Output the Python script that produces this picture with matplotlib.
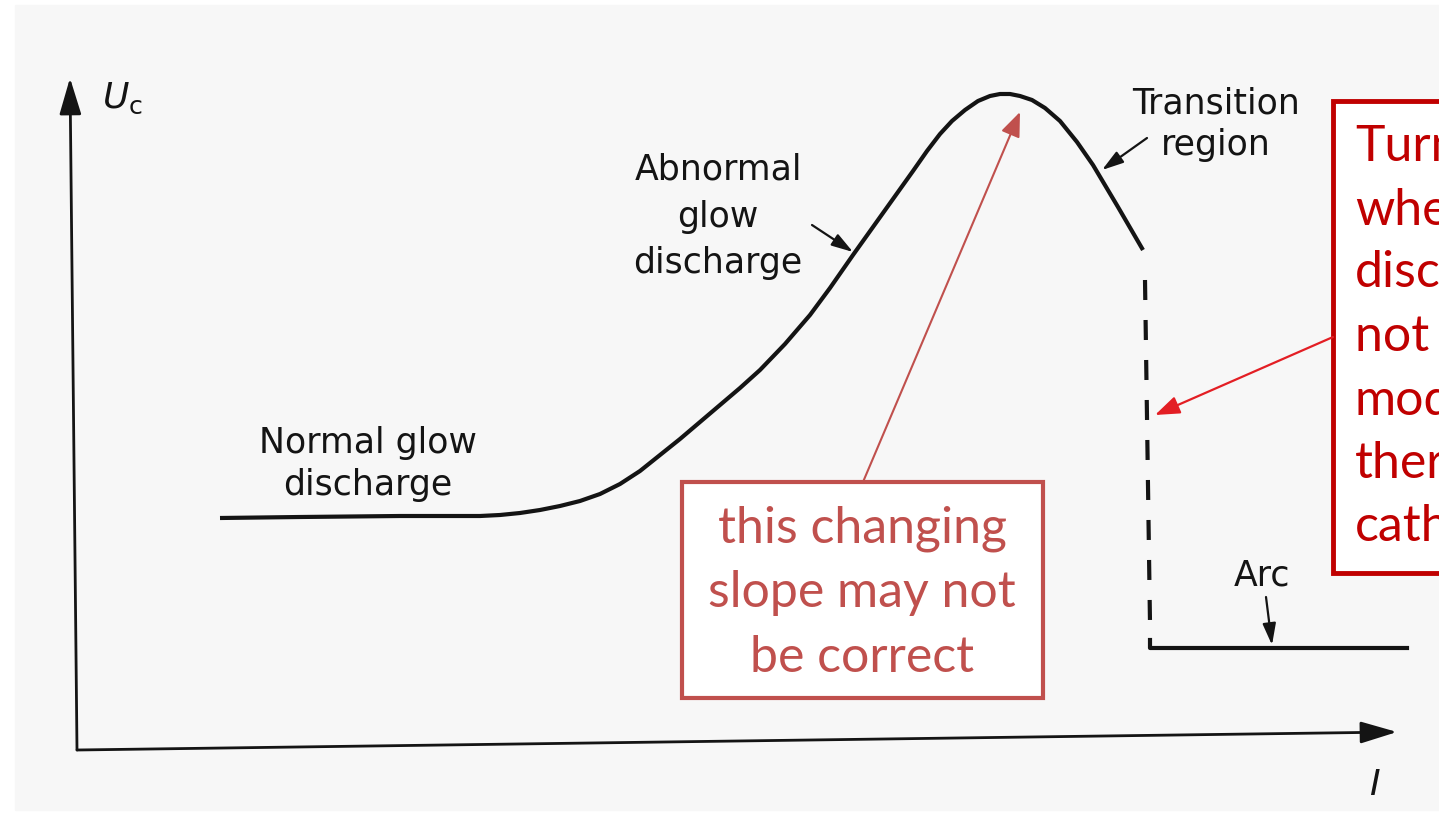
import numpy as np
import matplotlib
matplotlib.use("Agg")
import matplotlib.pyplot as plt
from matplotlib.patches import Rectangle

plt.rcParams['lines.scale_dashes'] = False
plt.rcParams['mathtext.fontset'] = 'dejavusans'

# U-I characteristic (drawing units, origin at the axis corner)
current = np.array([143, 223, 323, 403, 423, 443, 463, 483, 503, 523,
                    543, 563, 583, 603, 623, 643, 663, 683, 708, 733,
                    753, 776, 796, 816, 836, 850, 863, 875, 888, 901,
                    913, 923, 933, 943, 955, 968, 983, 1000, 1016, 1041, 1066])
voltage = np.array([232, 233, 234, 234, 235, 237, 240, 244, 249, 256,
                    266, 279, 295, 311, 328, 345, 362, 380, 406, 435,
                    462, 495, 523, 551, 579, 599, 616, 629, 640, 649,
                    654, 656, 656, 654, 650, 642, 629, 608, 585, 543, 500])

# jump to the arc (dashed) and the arc branch
jump_current = [1068, 1073]
jump_voltage = [470, 127]
arc_current = [1073, 1073, 1330]
arc_voltage = [110, 102, 102]

region_labels = {
    'normal': ['Normal glow', 'discharge'],
    'abnormal': ['Abnormal', 'glow', 'discharge'],
    'transition': ['Transition', 'region'],
    'arc': ['Arc'],
}
note_slope = ['this changing', 'slope may not', 'be correct']
note_turn = ['Turning', 'when', 'discharge', 'not in glow', 'mode', 'thermionic', 'cathode']

BLACK = '#141414'
MUTED_RED = '#c0504d'
DARK_RED = '#c00000'
BRIGHT_RED = '#e31e24'

fig = plt.figure(figsize=(14.39, 8.31), dpi=100)
ax = fig.add_axes([0, 0, 1, 1])
ax.set_xlim(-77, 1362)
ax.set_ylim(-81, 750)
ax.axis('off')

# scanned page background
ax.add_patch(Rectangle((-62, -60), 1424, 805, color='#f7f7f7', zorder=0))


def put_lines(x, baselines, lines, **kw):
    for yb, s in zip(baselines, lines):
        ax.text(x, yb, s, va='baseline', **kw)


def arrow(start, end, color, lw, scale, style='-|>,head_length=1.4,head_width=0.45'):
    ax.annotate('', xy=end, xytext=start,
                arrowprops=dict(arrowstyle=style, color=color, lw=lw,
                                mutation_scale=scale, shrinkA=0, shrinkB=0))


# axes
arrow((0, 0), (-7, 672), BLACK, 2.0, 16, '-|>,head_length=1.4,head_width=0.42')
arrow((0, 0), (1320, 18), BLACK, 2.0, 16, '-|>,head_length=1.4,head_width=0.42')

# characteristic
ax.plot(current, voltage, color=BLACK, lw=3.0, solid_capstyle='butt', solid_joinstyle='round')
ax.plot(jump_current, jump_voltage, color=BLACK, lw=3.0, dashes=(14.4, 14.4),
        dash_capstyle='butt')
ax.plot(arc_current, arc_voltage, color=BLACK, lw=3.0, solid_joinstyle='round')

# black labels
txt = dict(color=BLACK, fontsize=25, family='DejaVu Sans', ha='center')
ax.text(25, 642, r'$U_{\mathrm{c}}$', color=BLACK, fontsize=26, va='baseline')
ax.text(1297, -45, 'I', color=BLACK, fontsize=26, style='italic', va='baseline', ha='center')
put_lines(291, [297, 255], region_labels['normal'], **txt)
put_lines(641, [570, 523, 477], region_labels['abnormal'], **txt)
put_lines(1139, [637, 595], region_labels['transition'], **txt)
put_lines(1185, [165], region_labels['arc'], **txt)

arrow((735, 525), (776, 498), BLACK, 1.6, 10, '-|>,head_length=1.3,head_width=0.4')
arrow((1070, 612), (1025, 580), BLACK, 1.6, 10, '-|>,head_length=1.3,head_width=0.4')
arrow((1189, 153), (1195, 105), BLACK, 1.6, 10, '-|>,head_length=1.3,head_width=0.4')

# red annotations
ax.add_patch(Rectangle((605, 52), 361, 216, facecolor='white', edgecolor=MUTED_RED,
                       lw=3.0, zorder=3))
put_lines(785, [208, 143, 78], note_slope, color=MUTED_RED, fontsize=36, family='Lato',
          ha='center', zorder=4)
arrow((786, 268), (943, 638), MUTED_RED, 1.5, 10, '-|>,head_length=1.5,head_width=0.6')

ax.add_patch(Rectangle((1256, 177), 160, 472, facecolor='white', edgecolor=DARK_RED,
                       lw=3.5, zorder=3))
put_lines(1278, [589, 525, 463, 399, 335, 272, 209], note_turn, color=DARK_RED,
          fontsize=36, family='Lato', ha='left', zorder=4)
arrow((1256, 413), (1078, 335), BRIGHT_RED, 1.6, 10, '-|>,head_length=1.5,head_width=0.55')

fig.savefig('out.png', dpi=100)
